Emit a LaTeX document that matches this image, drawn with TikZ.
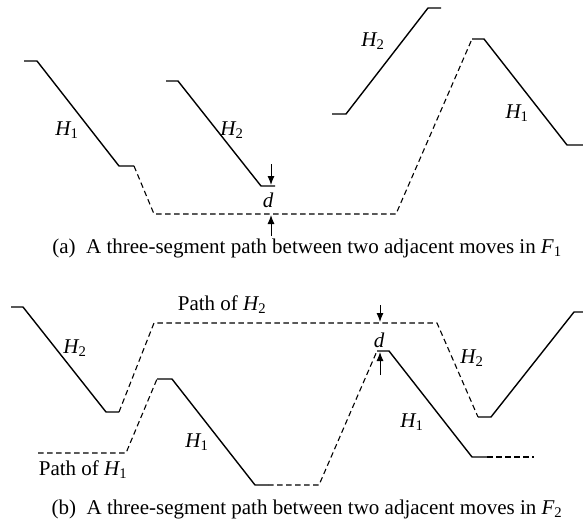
\documentclass[tikz,border=0pt]{standalone}
\usepackage{amsmath}
\usepackage{fontspec}
\setmainfont{Liberation Serif}
\usepackage{tikz}
\usetikzlibrary{arrows.meta}
\newcommand{\itl}[1]{\text{\itshape #1}}
\newcommand{\Hx}[1]{$\itl{H}_{\text{#1}}$}
\tikzset{
  figbase/.style={x=1pt, y=-1pt, line cap=butt, line join=miter,
    font=\fontsize{21}{24}\selectfont},
  seg/.style={line width=1.4pt, draw=black},
  pth/.style={line width=1.1pt, draw=black, dash pattern=on 5.5pt off 3.5pt},
  arr/.style={-{Latex[length=9pt,width=7pt]}, line width=1pt},
  lab/.style={inner sep=0pt, anchor=center},
  capt/.style={inner sep=0pt, anchor=center},
}
\begin{document}
\begin{tikzpicture}[figbase]
  \useasboundingbox (0,0) rectangle (583,532);

  % (a) moves in F1
  \draw[seg] (24,61) -- (37,61) -- (119,166) -- (134,166);
  \draw[pth] (134,166) -- (154,214) -- (396,214) -- (472,39);
  \draw[seg] (472,39) -- (484,39) -- (567,145) -- (583,145);
  \draw[seg] (166,81) -- (178,81) -- (261,186) -- (275,186);
  \draw[seg] (332,114) -- (346,114) -- (428,8) -- (441,8);

  \coordinate (dta) at (271,164);
  \coordinate (dtb) at (271,185);
  \coordinate (dba) at (271,236);
  \coordinate (dbb) at (271,215);
  \draw[arr] (dta) -- (dtb);
  \draw[arr] (dba) -- (dbb);

  \node[lab] (h1a) at (67,130) {\Hx{1}};
  \node[lab] (h2a) at (232,130) {\Hx{2}};
  \node[lab] (da) at (268,200) {$\itl{d}$};
  \node[lab] (h2b) at (373,41) {\Hx{2}};
  \node[lab] (h1b) at (517,113) {\Hx{1}};
  \node[capt] (capa) at (307,248)
    {(a)\enspace A three-segment path between two adjacent moves in $\itl{F}_{\text{1}}$};

  % (b) moves in F2
  \draw[seg] (11,307) -- (23,307) -- (106,412) -- (119,412);
  \draw[pth] (119,412) -- (154,323) -- (437,323) -- (478,417);
  \draw[seg] (478,417) -- (491,417) -- (574,312) -- (583,312);
  \draw[pth] (38,453) -- (126,453) -- (157,379);
  \draw[seg] (157,379) -- (172,379) -- (255,485) -- (268,485);
  \draw[pth] (268,485) -- (319,485) -- (377,351);
  \draw[seg] (377,351) -- (389,351) -- (472,457) -- (487,457);
  \draw[pth] (487,457) -- (534,457);

  \coordinate (dtc) at (380,305);
  \coordinate (dtd) at (380,322);
  \coordinate (dbc) at (380,375);
  \coordinate (dbd) at (380,352);
  \draw[arr] (dtc) -- (dtd);
  \draw[arr] (dbc) -- (dbd);

  \node[lab] (p2) at (222,305) {Path of \Hx{2}};
  \node[lab] (h2c) at (75,348) {\Hx{2}};
  \node[lab] (h2d) at (472,358) {\Hx{2}};
  \node[lab] (p1) at (83,470) {Path of \Hx{1}};
  \node[lab] (h1c) at (197,442) {\Hx{1}};
  \node[lab] (h1d) at (412,422) {\Hx{1}};
  \node[lab] (db) at (379,340) {$\itl{d}$};
  \node[capt] (capb) at (307,509)
    {(b)\enspace A three-segment path between two adjacent moves in $\itl{F}_{\text{2}}$};
\end{tikzpicture}
\end{document}
